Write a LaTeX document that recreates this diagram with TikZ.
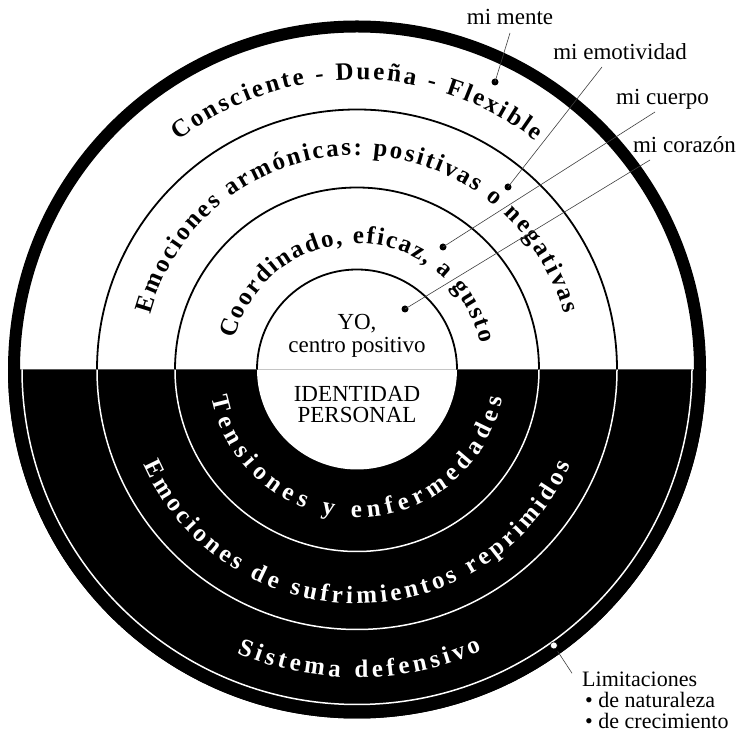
\documentclass[tikz,border=0pt]{standalone}
\usepackage{fontspec}
\setmainfont{Liberation Serif}
\usetikzlibrary{decorations.text,calc}
\newcommand\myarcfont{\bfseries\fontsize{25}{25}\selectfont}
\newcommand\mylabfont{\fontsize{23}{23}\selectfont}
\newcommand\mylimfont{\fontsize{22}{22}\selectfont}
\begin{document}
\begin{tikzpicture}[x=1pt,y=1pt,
  thinblack/.style={line width=1.8pt},
  thinwhite/.style={white,line width=1.5pt},
  leader/.style={line width=0.6pt, black!75},
  blackdot/.style={circle,fill=black,inner sep=0pt,minimum size=7pt},
  whitedot/.style={circle,fill=white,draw=black,line width=0.5pt,inner sep=0pt,minimum size=7pt},
  lab/.style={font=\mylabfont, inner sep=0pt, anchor=base},
  limlab/.style={font=\mylimfont, inner sep=0pt, anchor=base west},
  arctext/.style={decorate,decoration={text along path, text align={fit to path}}},
]
\useasboundingbox (0,0) rectangle (744,736);
\fill[white] (0,0) rectangle (744,736);
\coordinate (C) at (357,366.5);
% lower black half
\fill[black] ([shift={(180:349)}]C) arc[start angle=180,end angle=360,radius=349] -- cycle;
% lower white arcs
\foreach \r in {182,260,335}
  \draw[thinwhite] ([shift={(180:\r)}]C) arc[start angle=180,end angle=360,radius=\r];
% inner white disk, lower half
\fill[white] ([shift={(180:100)}]C) arc[start angle=180,end angle=360,radius=100] -- cycle;
% upper thin black arcs
\foreach \r in {100,182,260}
  \draw[thinblack] ([shift={(0:\r)}]C) arc[start angle=0,end angle=180,radius=\r];
% thick outer ring
\draw[line width=12pt] (C) circle[radius=343];

% upper arc texts
\path[arctext, decoration={text={|\myarcfont|Consciente - Dueña - Flexible}}]
  ([shift={(128:290)}]C) arc[start angle=128,end angle=52,radius=290];
\path[arctext, decoration={text={|\myarcfont|Emociones armónicas: positivas o negativas}}]
  ([shift={(165:214)}]C) arc[start angle=165,end angle=15,radius=214];
\path[arctext, decoration={text={|\myarcfont|Coordinado, eficaz, a gusto}}]
  ([shift={(166:126)}]C) arc[start angle=166,end angle=12,radius=126];
% lower arc texts
\path[arctext, decoration={text={|\myarcfont\color{white}|Tensiones y enfermedades}}]
  ([shift={(191:148)}]C) arc[start angle=191,end angle=349,radius=148];
\path[arctext, decoration={text={|\myarcfont\color{white}|Emociones de sufrimientos reprimidos}}]
  ([shift={(204:234)}]C) arc[start angle=204,end angle=336,radius=234];
\path[arctext, decoration={text={|\myarcfont\color{white}|Sistema defensivo}}]
  ([shift={(247:308)}]C) arc[start angle=247,end angle=294,radius=308];

% centre texts
\node[lab] (yo) at (357,406) {YO,};
\node[lab] (centro) at (357,383) {centro positivo};
\node[lab] (ident) at (357,334) {IDENTIDAD};
\node[lab] (person) at (357,313) {PERSONAL};

% labels with leaders
\node[lab] (mente) at (510,711) {mi mente};
\node[lab] (emot) at (620,676) {mi emotividad};
\node[lab] (cuerpo) at (662.5,631) {mi cuerpo};
\node[lab] (corazon) at (684.5,583) {mi corazón};
\node[blackdot] (dmente) at (495,654) {};
\node[blackdot] (demot) at (508,549) {};
\node[blackdot] (dcuerpo) at (443,489) {};
\node[blackdot] (dcorazon) at (405,427) {};
\draw[leader] (dmente.center) -- ([shift={(0,-8)}]mente.base);
\draw[leader] (demot.center) -- ([shift={(-18,-7)}]emot.base);
\draw[leader] (dcuerpo.center) -- ([shift={(-7.5,-7)}]cuerpo.base);
\draw[leader] (dcorazon.center) -- ([shift={(-34.5,-7)}]corazon.base);

% limitaciones
\node[whitedot] (ldot) at ([shift={(-54.5:339)}]C) {};
\node[limlab] (lim1) at (582,49) {Limitaciones};
\node[limlab] (lim2) at (585,28) {• de naturaleza};
\node[limlab] (lim3) at (585,8) {• de crecimiento};
\draw[leader, shorten <=7pt] (ldot.center) -- ([shift={(-10,-1)}]lim1.north west);
\end{tikzpicture}
\end{document}
